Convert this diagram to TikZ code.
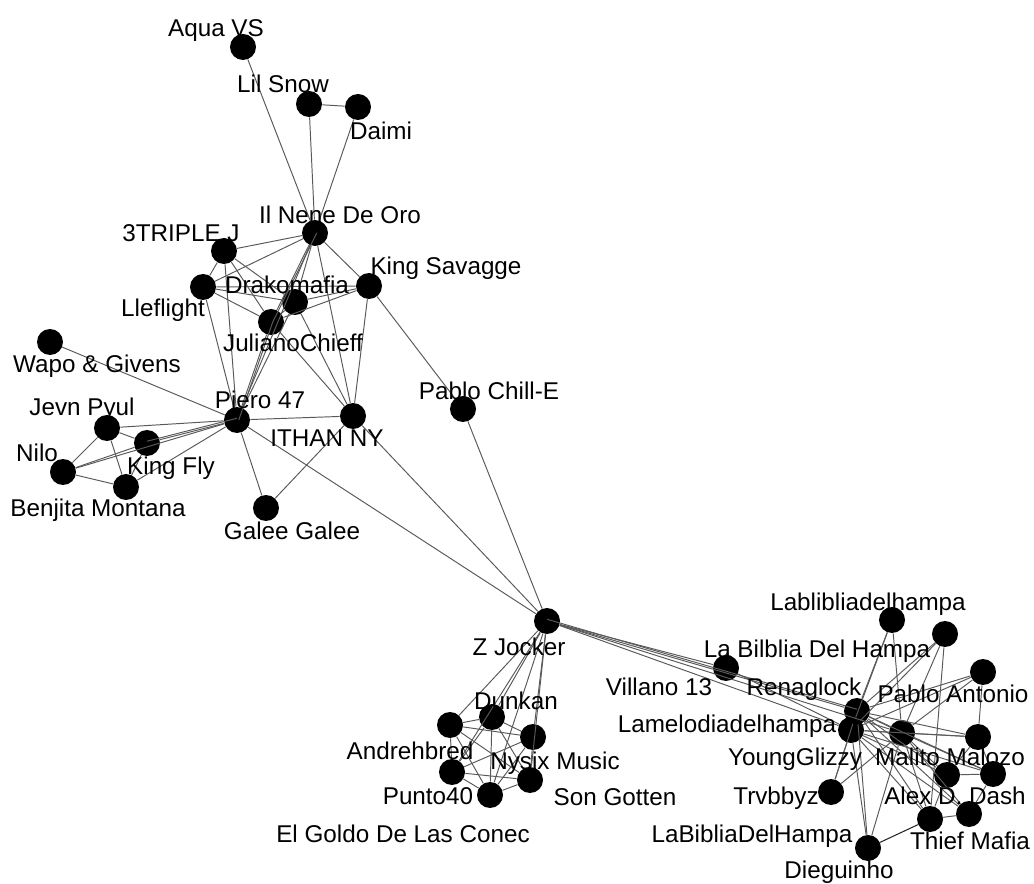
\documentclass[tikz,border=0pt]{standalone}
\usepackage{fontspec}
\setmainfont{Liberation Sans}
\begin{document}
\begin{tikzpicture}[x=0.02cm,y=-0.02cm,
	vertex/.style={circle,fill=black,inner sep=0pt,minimum size=0.52cm},
	lbl/.style={inner sep=0pt,anchor=base,font=\fontsize{13.8}{16}\selectfont},
	edge/.style={black!65,line width=0.55pt}]
	\useasboundingbox (0,0) rectangle (1034,884);
	% upper group
	\node[vertex] (aqua) at (243,47) {};
	\node[vertex] (lilsnow) at (309,104) {};
	\node[vertex] (daimi) at (358,107) {};
	\node[vertex] (nene) at (315,233) {};
	\node[vertex] (triplej) at (224,251) {};
	\node[vertex] (lleflight) at (203,287) {};
	\node[vertex] (drako) at (295,302) {};
	\node[vertex] (king) at (369,286) {};
	\node[vertex] (juliano) at (271,322) {};
	\node[vertex] (wapo) at (50,342) {};
	\node[vertex] (piero) at (237,420) {};
	\node[vertex] (ithan) at (353,416) {};
	\node[vertex] (pablochill) at (463,409) {};
	\node[vertex] (jevn) at (107,428) {};
	\node[vertex] (kingfly) at (147,443) {};
	\node[vertex] (nilo) at (63,472) {};
	\node[vertex] (benjita) at (126,487) {};
	\node[vertex] (galee) at (266,508) {};
	% middle group
	\node[vertex] (zjocker) at (547,621) {};
	\node[vertex] (andreh) at (450,725) {};
	\node[vertex] (dunkan) at (492,717) {};
	\node[vertex] (nysix) at (533,737) {};
	\node[vertex] (punto) at (452,772) {};
	\node[vertex] (songotten) at (530,780) {};
	\node[vertex] (goldo) at (490,795) {};
	% right group
	\node[vertex] (lablibli) at (892,620) {};
	\node[vertex] (bilblia) at (945,634) {};
	\node[vertex] (villano) at (726,668) {};
	\node[vertex] (renaglock) at (857,711) {};
	\node[vertex] (pabloant) at (983,672) {};
	\node[vertex] (lamelodia) at (851,730) {};
	\node[vertex] (glizzy) at (902,733) {};
	\node[vertex] (malito) at (978,737) {};
	\node[vertex] (alexd) at (947,775) {};
	\node[vertex] (dash) at (993,774) {};
	\node[vertex] (trvbbyz) at (831,792) {};
	\node[vertex] (labiblia) at (930,819) {};
	\node[vertex] (thief) at (969,814) {};
	\node[vertex] (dieguinho) at (868,848) {};
	%
	\foreach \a/\b in {aqua/nene,lilsnow/nene,daimi/nene,lilsnow/daimi,
		nene/triplej,nene/lleflight,nene/drako,nene/juliano,nene/piero,nene/ithan,nene/king,
		triplej/lleflight,triplej/drako,triplej/juliano,triplej/piero,
		lleflight/drako,lleflight/juliano,lleflight/king,lleflight/piero,
		drako/king,drako/juliano,drako/ithan,drako/piero,
		juliano/king,juliano/piero,juliano/ithan,king/ithan,king/pablochill,
		piero/wapo,piero/jevn,piero/kingfly,piero/nilo,piero/benjita,piero/galee,piero/ithan,piero/zjocker,
		ithan/galee,ithan/zjocker,pablochill/zjocker,
		jevn/kingfly,jevn/nilo,jevn/benjita,nilo/kingfly,nilo/benjita,kingfly/benjita}
		\draw[edge] (\a) -- (\b);
	% double lines
	\draw[edge] ([xshift=1pt]nene.center) -- ([xshift=1pt]juliano.center);
	\draw[edge] ([xshift=1pt]juliano.center) -- ([xshift=1pt]piero.center);
	\draw[edge] ([yshift=1pt]kingfly.center) -- ([yshift=1pt]piero.center);
	%
	\foreach \a in {andreh,dunkan,nysix,punto,songotten,goldo}
		\draw[edge] (zjocker) -- (\a);
	\foreach \a/\b in {andreh/dunkan,andreh/nysix,andreh/punto,andreh/songotten,andreh/goldo,
		dunkan/nysix,dunkan/punto,dunkan/songotten,dunkan/goldo,
		nysix/punto,nysix/songotten,nysix/goldo,
		punto/songotten,punto/goldo,songotten/goldo}
		\draw[edge] (\a) -- (\b);
	%
	\foreach \a in {villano,renaglock,lamelodia,glizzy}
		\draw[edge] (zjocker) -- (\a);
	\draw[edge] ([yshift=1pt]zjocker.center) -- ([yshift=1pt]renaglock.center);
	\draw[edge] (villano) -- (lamelodia);
	\foreach \a in {lablibli,bilblia,pabloant,glizzy,malito,alexd,dash,trvbbyz,labiblia,thief,dieguinho}{
		\draw[edge] (renaglock) -- (\a);
		\draw[edge] (lamelodia) -- (\a);
	}
	\foreach \a/\b in {glizzy/lablibli,glizzy/bilblia,glizzy/pabloant,glizzy/malito,glizzy/alexd,
		glizzy/dash,glizzy/trvbbyz,glizzy/labiblia,glizzy/dieguinho,glizzy/thief,
		alexd/dash,alexd/labiblia,dash/thief,labiblia/thief,
		malito/dash,malito/alexd,bilblia/labiblia,pabloant/malito}
		\draw[edge] (\a) -- (\b);
	\draw[black!85,line width=0.6pt] (dieguinho) -- (labiblia);
	% labels
	\node[lbl] (aquaT) at (216,37) {Aqua VS};
	\node[lbl] (lilsnowT) at (283,93) {Lil Snow};
	\node[lbl] (daimiT) at (381,140) {Daimi};
	\node[lbl] (neneT) at (340,224) {Il Nene De Oro};
	\node[lbl] (triplejT) at (181,242) {3TRIPLE J};
	\node[lbl] (drakoT) at (287,294) {Drakomafia};
	\node[lbl] (kingT) at (446,275) {King Savagge};
	\node[lbl] (lleflightT) at (163,317) {Lleflight};
	\node[lbl] (julianoT) at (293,352) {JulianoChieff};
	\node[lbl] (wapoT) at (97,373) {Wapo \& Givens};
	\node[lbl] (pieroT) at (260,409) {Piero 47};
	\node[lbl] (jevnT) at (82,416) {Jevn Pyul};
	\node[lbl] (niloT) at (37,462) {Nilo};
	\node[lbl] (kingflyT) at (171,475) {King Fly};
	\node[lbl] (benjitaT) at (98,517) {Benjita Montana};
	\node[lbl] (ithanT) at (327,447) {ITHAN NY};
	\node[lbl] (galeeT) at (292,540) {Galee Galee};
	\node[lbl] (pablochillT) at (489,400) {Pablo Chill-E};
	\node[lbl] (zjockerT) at (519,655) {Z Jocker};
	\node[lbl] (dunkanT) at (516,709) {Dunkan};
	\node[lbl] (andrehT) at (410,759) {Andrehbred};
	\node[lbl] (nysixT) at (555,769) {Nysix Music};
	\node[lbl] (puntoT) at (428,804) {Punto40};
	\node[lbl] (songottenT) at (615,805) {Son Gotten};
	\node[lbl] (goldoT) at (403,842) {El Goldo De Las Conec};
	\node[lbl] (lablibliT) at (868,610) {Lablibliadelhampa};
	\node[lbl] (bilbliaT) at (817,657) {La Bilblia Del Hampa};
	\node[lbl] (villanoT) at (659,695) {Villano 13};
	\node[lbl] (renaglockT) at (804,695) {Renaglock};
	\node[lbl] (pabloantT) at (953,702) {Pablo Antonio};
	\node[lbl] (lamelodiaT) at (727,732) {Lamelodiadelhampa};
	\node[lbl] (glizzyT) at (795,765) {YoungGlizzy};
	\node[lbl] (malitoT) at (950,765) {Malito Malozo};
	\node[lbl] (trvbbyzT) at (776,804) {Trvbbyz};
	\node[lbl] (alexdT) at (955,804) {Alex D. Dash};
	\node[lbl] (labibliaT) at (752,842) {LaBibliaDelHampa};
	\node[lbl] (thiefT) at (970,849) {Thief Mafia};
	\node[lbl] (dieguinhoT) at (839,878) {Dieguinho};
\end{tikzpicture}
\end{document}
